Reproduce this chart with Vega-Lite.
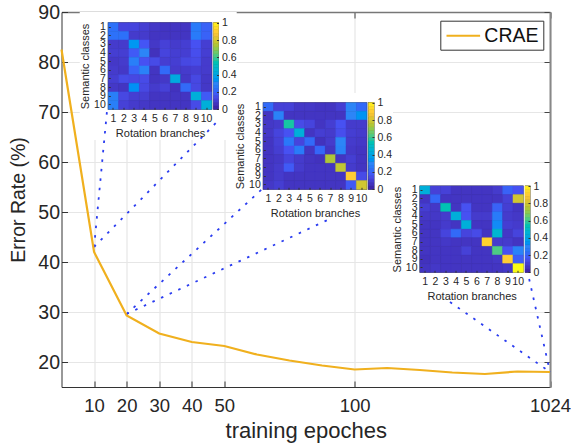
{
"$schema":"https://vega.github.io/schema/vega-lite/v6.json",
"width":488.5,"height":375,"padding":{"left":61.5,"top":12,"right":21,"bottom":57},"autosize":"none","background":"white",
"config":{"font":"Liberation Sans","view":{"stroke":null},"axis":{"labelFont":"Liberation Sans","titleFont":"Liberation Sans","labelColor":"#262626","titleColor":"#262626","titleFontWeight":"normal"}},
"datasets":{
"series":[{"idx":0,"epoch":"5","err":82.5,"method":"CRAE"},{"idx":1,"epoch":"10","err":42,"method":"CRAE"},{"idx":2,"epoch":"20","err":29.3,"method":"CRAE"},{"idx":3,"epoch":"30","err":25.7,"method":"CRAE"},{"idx":4,"epoch":"40","err":24,"method":"CRAE"},{"idx":5,"epoch":"50","err":23.2,"method":"CRAE"},{"idx":6,"epoch":"60","err":21.5,"method":"CRAE"},{"idx":7,"epoch":"70","err":20.3,"method":"CRAE"},{"idx":8,"epoch":"80","err":19.3,"method":"CRAE"},{"idx":9,"epoch":"100","err":18.5,"method":"CRAE"},{"idx":10,"epoch":"200","err":18.8,"method":"CRAE"},{"idx":11,"epoch":"300","err":18.4,"method":"CRAE"},{"idx":12,"epoch":"400","err":17.9,"method":"CRAE"},{"idx":13,"epoch":"500","err":17.6,"method":"CRAE"},{"idx":14,"epoch":"800","err":18.1,"method":"CRAE"},{"idx":15,"epoch":"1024","err":18,"method":"CRAE"}],
"panels":[{"idx":0.56,"idx2":5.38,"err":90,"err2":64.4,"kind":"white"},{"idx":5.33,"idx2":10.18,"err":73.8,"err2":48.8,"kind":"white"},{"idx":10.18,"idx2":14.97,"err":56.8,"err2":31.4,"kind":"white"},{"idx":1.42,"idx2":4.63,"err":87.96,"err2":70.44,"kind":"dark"},{"idx":4.66,"idx2":4.83,"err":87.96,"err2":70.44,"kind":"dark"},{"idx":6.18,"idx2":9.39,"err":71.96,"err2":54.44,"kind":"dark"},{"idx":9.41,"idx2":9.61,"err":71.96,"err2":54.44,"kind":"dark"},{"idx":10.99,"idx2":14.19,"err":55.3,"err2":37.84,"kind":"dark"},{"idx":14.23,"idx2":14.4,"err":55.3,"err2":37.84,"kind":"dark"}],
"links":[{"link":"a","idx":1,"err":43},{"link":"a","idx":1.4,"err":70.4},{"link":"b","idx":1,"err":43},{"link":"b","idx":4.77,"err":68},{"link":"c","idx":2,"err":29.6},{"link":"c","idx":6.16,"err":54.6},{"link":"d","idx":2,"err":29.6},{"link":"d","idx":8.3,"err":48.8},{"link":"e","idx":15,"err":18},{"link":"e","idx":11.93,"err":32},{"link":"e2","idx":15,"err":18},{"link":"e2","idx":14.36,"err":36.6}],
"bar":[{"v":0,"v2":0.04,"b":"c"},{"v":0.04,"v2":0.08,"b":"c"},{"v":0.08,"v2":0.12,"b":"c"},{"v":0.12,"v2":0.16,"b":"c"},{"v":0.16,"v2":0.2,"b":"c"},{"v":0.2,"v2":0.24,"b":"c"},{"v":0.24,"v2":0.28,"b":"c"},{"v":0.28,"v2":0.32,"b":"c"},{"v":0.32,"v2":0.36,"b":"c"},{"v":0.36,"v2":0.4,"b":"c"},{"v":0.4,"v2":0.44,"b":"c"},{"v":0.44,"v2":0.48,"b":"c"},{"v":0.48,"v2":0.52,"b":"c"},{"v":0.52,"v2":0.56,"b":"c"},{"v":0.56,"v2":0.6,"b":"c"},{"v":0.6,"v2":0.64,"b":"c"},{"v":0.64,"v2":0.68,"b":"c"},{"v":0.68,"v2":0.72,"b":"c"},{"v":0.72,"v2":0.76,"b":"c"},{"v":0.76,"v2":0.8,"b":"c"},{"v":0.8,"v2":0.84,"b":"c"},{"v":0.84,"v2":0.88,"b":"c"},{"v":0.88,"v2":0.92,"b":"c"},{"v":0.92,"v2":0.96,"b":"c"},{"v":0.96,"v2":1,"b":"c"}],
"m1":[
{"r":1,"c":1,"v":0.22},{"r":1,"c":2,"v":0.1},{"r":1,"c":3,"v":0.1},{"r":1,"c":4,"v":0.08},{"r":1,"c":5,"v":0.06},{"r":1,"c":6,"v":0.05},{"r":1,"c":7,"v":0.05},{"r":1,"c":8,"v":0.05},{"r":1,"c":9,"v":0.25},{"r":1,"c":10,"v":0.18},
{"r":2,"c":1,"v":0.22},{"r":2,"c":2,"v":0.22},{"r":2,"c":3,"v":0.07},{"r":2,"c":4,"v":0.07},{"r":2,"c":5,"v":0.05},{"r":2,"c":6,"v":0.05},{"r":2,"c":7,"v":0.05},{"r":2,"c":8,"v":0.05},{"r":2,"c":9,"v":0.25},{"r":2,"c":10,"v":0.18},
{"r":3,"c":1,"v":0.07},{"r":3,"c":2,"v":0.07},{"r":3,"c":3,"v":0.33},{"r":3,"c":4,"v":0.15},{"r":3,"c":5,"v":0.06},{"r":3,"c":6,"v":0.09},{"r":3,"c":7,"v":0.07},{"r":3,"c":8,"v":0.08},{"r":3,"c":9,"v":0.14},{"r":3,"c":10,"v":0.08},
{"r":4,"c":1,"v":0.08},{"r":4,"c":2,"v":0.08},{"r":4,"c":3,"v":0.16},{"r":4,"c":4,"v":0.28},{"r":4,"c":5,"v":0.04},{"r":4,"c":6,"v":0.1},{"r":4,"c":7,"v":0.08},{"r":4,"c":8,"v":0.08},{"r":4,"c":9,"v":0.13},{"r":4,"c":10,"v":0.08},
{"r":5,"c":1,"v":0.06},{"r":5,"c":2,"v":0.07},{"r":5,"c":3,"v":0.26},{"r":5,"c":4,"v":0.14},{"r":5,"c":5,"v":0.12},{"r":5,"c":6,"v":0.08},{"r":5,"c":7,"v":0.08},{"r":5,"c":8,"v":0.11},{"r":5,"c":9,"v":0.12},{"r":5,"c":10,"v":0.07},
{"r":6,"c":1,"v":0.07},{"r":6,"c":2,"v":0.06},{"r":6,"c":3,"v":0.18},{"r":6,"c":4,"v":0.27},{"r":6,"c":5,"v":0.05},{"r":6,"c":6,"v":0.2},{"r":6,"c":7,"v":0.07},{"r":6,"c":8,"v":0.07},{"r":6,"c":9,"v":0.08},{"r":6,"c":10,"v":0.07},
{"r":7,"c":1,"v":0.08},{"r":7,"c":2,"v":0.12},{"r":7,"c":3,"v":0.11},{"r":7,"c":4,"v":0.12},{"r":7,"c":5,"v":0.05},{"r":7,"c":6,"v":0.06},{"r":7,"c":7,"v":0.4},{"r":7,"c":8,"v":0.06},{"r":7,"c":9,"v":0.11},{"r":7,"c":10,"v":0.06},
{"r":8,"c":1,"v":0.06},{"r":8,"c":2,"v":0.05},{"r":8,"c":3,"v":0.31},{"r":8,"c":4,"v":0.11},{"r":8,"c":5,"v":0.07},{"r":8,"c":6,"v":0.09},{"r":8,"c":7,"v":0.04},{"r":8,"c":8,"v":0.2},{"r":8,"c":9,"v":0.11},{"r":8,"c":10,"v":0.06},
{"r":9,"c":1,"v":0.26},{"r":9,"c":2,"v":0.11},{"r":9,"c":3,"v":0.08},{"r":9,"c":4,"v":0.08},{"r":9,"c":5,"v":0.05},{"r":9,"c":6,"v":0.05},{"r":9,"c":7,"v":0.05},{"r":9,"c":8,"v":0.05},{"r":9,"c":9,"v":0.42},{"r":9,"c":10,"v":0.16},
{"r":10,"c":1,"v":0.26},{"r":10,"c":2,"v":0.09},{"r":10,"c":3,"v":0.07},{"r":10,"c":4,"v":0.06},{"r":10,"c":5,"v":0.05},{"r":10,"c":6,"v":0.05},{"r":10,"c":7,"v":0.05},{"r":10,"c":8,"v":0.05},{"r":10,"c":9,"v":0.12},{"r":10,"c":10,"v":0.42}],
"m2":[
{"r":1,"c":1,"v":0.2},{"r":1,"c":2,"v":0.09},{"r":1,"c":3,"v":0.09},{"r":1,"c":4,"v":0.06},{"r":1,"c":5,"v":0.06},{"r":1,"c":6,"v":0.05},{"r":1,"c":7,"v":0.05},{"r":1,"c":8,"v":0.08},{"r":1,"c":9,"v":0.28},{"r":1,"c":10,"v":0.2},
{"r":2,"c":1,"v":0.05},{"r":2,"c":2,"v":0.27},{"r":2,"c":3,"v":0.05},{"r":2,"c":4,"v":0.05},{"r":2,"c":5,"v":0.05},{"r":2,"c":6,"v":0.05},{"r":2,"c":7,"v":0.05},{"r":2,"c":8,"v":0.05},{"r":2,"c":9,"v":0.28},{"r":2,"c":10,"v":0.32},
{"r":3,"c":1,"v":0.06},{"r":3,"c":2,"v":0.07},{"r":3,"c":3,"v":0.55},{"r":3,"c":4,"v":0.12},{"r":3,"c":5,"v":0.1},{"r":3,"c":6,"v":0.05},{"r":3,"c":7,"v":0.08},{"r":3,"c":8,"v":0.14},{"r":3,"c":9,"v":0.07},{"r":3,"c":10,"v":0.07},
{"r":4,"c":1,"v":0.06},{"r":4,"c":2,"v":0.1},{"r":4,"c":3,"v":0.14},{"r":4,"c":4,"v":0.42},{"r":4,"c":5,"v":0.05},{"r":4,"c":6,"v":0.08},{"r":4,"c":7,"v":0.07},{"r":4,"c":8,"v":0.13},{"r":4,"c":9,"v":0.08},{"r":4,"c":10,"v":0.07},
{"r":5,"c":1,"v":0.05},{"r":5,"c":2,"v":0.09},{"r":5,"c":3,"v":0.24},{"r":5,"c":4,"v":0.1},{"r":5,"c":5,"v":0.2},{"r":5,"c":6,"v":0.04},{"r":5,"c":7,"v":0.07},{"r":5,"c":8,"v":0.28},{"r":5,"c":9,"v":0.07},{"r":5,"c":10,"v":0.06},
{"r":6,"c":1,"v":0.05},{"r":6,"c":2,"v":0.08},{"r":6,"c":3,"v":0.14},{"r":6,"c":4,"v":0.25},{"r":6,"c":5,"v":0.05},{"r":6,"c":6,"v":0.19},{"r":6,"c":7,"v":0.05},{"r":6,"c":8,"v":0.27},{"r":6,"c":9,"v":0.06},{"r":6,"c":10,"v":0.05},
{"r":7,"c":1,"v":0.05},{"r":7,"c":2,"v":0.06},{"r":7,"c":3,"v":0.1},{"r":7,"c":4,"v":0.07},{"r":7,"c":5,"v":0.05},{"r":7,"c":6,"v":0.04},{"r":7,"c":7,"v":0.72},{"r":7,"c":8,"v":0.05},{"r":7,"c":9,"v":0.08},{"r":7,"c":10,"v":0.05},
{"r":8,"c":1,"v":0.05},{"r":8,"c":2,"v":0.07},{"r":8,"c":3,"v":0.16},{"r":8,"c":4,"v":0.07},{"r":8,"c":5,"v":0.05},{"r":8,"c":6,"v":0.05},{"r":8,"c":7,"v":0.05},{"r":8,"c":8,"v":0.75},{"r":8,"c":9,"v":0.07},{"r":8,"c":10,"v":0.05},
{"r":9,"c":1,"v":0.05},{"r":9,"c":2,"v":0.07},{"r":9,"c":3,"v":0.05},{"r":9,"c":4,"v":0.05},{"r":9,"c":5,"v":0.05},{"r":9,"c":6,"v":0.05},{"r":9,"c":7,"v":0.05},{"r":9,"c":8,"v":0.05},{"r":9,"c":9,"v":0.88},{"r":9,"c":10,"v":0.12},
{"r":10,"c":1,"v":0.06},{"r":10,"c":2,"v":0.08},{"r":10,"c":3,"v":0.05},{"r":10,"c":4,"v":0.05},{"r":10,"c":5,"v":0.05},{"r":10,"c":6,"v":0.05},{"r":10,"c":7,"v":0.05},{"r":10,"c":8,"v":0.05},{"r":10,"c":9,"v":0.16},{"r":10,"c":10,"v":0.78}],
"m3":[
{"r":1,"c":1,"v":0.42},{"r":1,"c":2,"v":0.09},{"r":1,"c":3,"v":0.09},{"r":1,"c":4,"v":0.05},{"r":1,"c":5,"v":0.05},{"r":1,"c":6,"v":0.05},{"r":1,"c":7,"v":0.05},{"r":1,"c":8,"v":0.07},{"r":1,"c":9,"v":0.18},{"r":1,"c":10,"v":0.14},
{"r":2,"c":1,"v":0.05},{"r":2,"c":2,"v":0.19},{"r":2,"c":3,"v":0.05},{"r":2,"c":4,"v":0.05},{"r":2,"c":5,"v":0.05},{"r":2,"c":6,"v":0.05},{"r":2,"c":7,"v":0.05},{"r":2,"c":8,"v":0.05},{"r":2,"c":9,"v":0.09},{"r":2,"c":10,"v":0.78},
{"r":3,"c":1,"v":0.08},{"r":3,"c":2,"v":0.06},{"r":3,"c":3,"v":0.52},{"r":3,"c":4,"v":0.05},{"r":3,"c":5,"v":0.14},{"r":3,"c":6,"v":0.05},{"r":3,"c":7,"v":0.05},{"r":3,"c":8,"v":0.18},{"r":3,"c":9,"v":0.08},{"r":3,"c":10,"v":0.05},
{"r":4,"c":1,"v":0.06},{"r":4,"c":2,"v":0.06},{"r":4,"c":3,"v":0.07},{"r":4,"c":4,"v":0.42},{"r":4,"c":5,"v":0.14},{"r":4,"c":6,"v":0.07},{"r":4,"c":7,"v":0.07},{"r":4,"c":8,"v":0.25},{"r":4,"c":9,"v":0.07},{"r":4,"c":10,"v":0.06},
{"r":5,"c":1,"v":0.05},{"r":5,"c":2,"v":0.05},{"r":5,"c":3,"v":0.07},{"r":5,"c":4,"v":0.05},{"r":5,"c":5,"v":0.42},{"r":5,"c":6,"v":0.05},{"r":5,"c":7,"v":0.05},{"r":5,"c":8,"v":0.3},{"r":5,"c":9,"v":0.08},{"r":5,"c":10,"v":0.07},
{"r":6,"c":1,"v":0.05},{"r":6,"c":2,"v":0.05},{"r":6,"c":3,"v":0.1},{"r":6,"c":4,"v":0.2},{"r":6,"c":5,"v":0.1},{"r":6,"c":6,"v":0.12},{"r":6,"c":7,"v":0.05},{"r":6,"c":8,"v":0.45},{"r":6,"c":9,"v":0.06},{"r":6,"c":10,"v":0.1},
{"r":7,"c":1,"v":0.05},{"r":7,"c":2,"v":0.05},{"r":7,"c":3,"v":0.06},{"r":7,"c":4,"v":0.05},{"r":7,"c":5,"v":0.05},{"r":7,"c":6,"v":0.05},{"r":7,"c":7,"v":0.9},{"r":7,"c":8,"v":0.07},{"r":7,"c":9,"v":0.07},{"r":7,"c":10,"v":0.05},
{"r":8,"c":1,"v":0.05},{"r":8,"c":2,"v":0.05},{"r":8,"c":3,"v":0.05},{"r":8,"c":4,"v":0.05},{"r":8,"c":5,"v":0.09},{"r":8,"c":6,"v":0.05},{"r":8,"c":7,"v":0.05},{"r":8,"c":8,"v":0.6},{"r":8,"c":9,"v":0.14},{"r":8,"c":10,"v":0.27},
{"r":9,"c":1,"v":0.04},{"r":9,"c":2,"v":0.05},{"r":9,"c":3,"v":0.05},{"r":9,"c":4,"v":0.05},{"r":9,"c":5,"v":0.05},{"r":9,"c":6,"v":0.05},{"r":9,"c":7,"v":0.05},{"r":9,"c":8,"v":0.06},{"r":9,"c":9,"v":0.88},{"r":9,"c":10,"v":0.17},
{"r":10,"c":1,"v":0.05},{"r":10,"c":2,"v":0.06},{"r":10,"c":3,"v":0.05},{"r":10,"c":4,"v":0.05},{"r":10,"c":5,"v":0.05},{"r":10,"c":6,"v":0.05},{"r":10,"c":7,"v":0.05},{"r":10,"c":8,"v":0.05},{"r":10,"c":9,"v":0.06},{"r":10,"c":10,"v":1}]
},
"resolve":{"scale":{"x":"independent","y":"independent","stroke":"independent","fill":"independent"},"axis":{"x":"independent","y":"independent"}},
"layer":[
{"resolve":{"axis":{"x":"independent","y":"independent"}},
 "layer":[
 {"data":{"name":"panels"},"mark":{"type":"rect"},
  "encoding":{
   "x":{"field":"idx","type":"quantitative","scale":{"domain":[0,15],"nice":false,"zero":false},
     "axis":{"orient":"bottom","values":[1,2,3,4,5,9,15],"labelExpr":"{'1':'10','2':'20','3':'30','4':'40','5':'50','9':'100','15':'1024'}[datum.value]","title":"training epoches","grid":true,"gridColor":"#e6e6e6","gridWidth":1.2,"tickSize":-6,"tickColor":"#333","domainColor":"#333","domainWidth":1,"labelFontSize":18.5,"titleFontSize":22,"labelPadding":15,"titlePadding":6,"labelFlush":false}},
   "x2":{"field":"idx2"},
   "y":{"field":"err","type":"quantitative","scale":{"domain":[15,90],"nice":false,"zero":false},
     "axis":{"orient":"left","values":[20,30,40,50,60,70,80,90],"title":"Error Rate (%)","grid":true,"gridColor":"#e6e6e6","gridWidth":1.2,"tickSize":-6,"tickColor":"#333","domainColor":"#333","domainWidth":1,"labelFontSize":19.5,"titleFontSize":19.5,"labelPadding":8,"titlePadding":9}},
   "y2":{"field":"err2"},
   "fill":{"field":"kind","type":"nominal","scale":{"domain":["white","dark"],"range":["#ffffff","#3a3a3a"]},"legend":null}
  }},
 {"data":{"name":"links"},"mark":{"type":"line","stroke":"#2a3cf0","strokeWidth":1.8,"strokeDash":[2.5,7]},
  "encoding":{"x":{"field":"idx","type":"quantitative","axis":null},"y":{"field":"err","type":"quantitative","axis":null},"detail":{"field":"link"}}},
 {"data":{"name":"series"},"mark":{"type":"line","strokeWidth":2.2},
  "encoding":{
   "x":{"field":"idx","type":"quantitative","axis":{"orient":"top","values":[1,2,3,4,5,9,15],"labels":false,"title":null,"tickSize":-6,"tickColor":"#444","domainColor":"#777","domainWidth":1.4,"grid":false}},
   "y":{"field":"err","type":"quantitative","axis":{"orient":"right","values":[20,30,40,50,60,70,80,90],"labels":false,"title":null,"tickSize":-6,"tickColor":"#444","domainColor":"#888","domainWidth":2,"grid":false}},
   "stroke":{"field":"method","type":"nominal","scale":{"range":["#f0b01e"]},"legend":{"orient":"none","legendX":378.8,"legendY":8.7,"title":null,"fillColor":"#ffffff","strokeColor":"#333","padding":4,"symbolType":"M-1.68,0H1.68","symbolSize":400,"symbolOffset":8,"labelOffset":10,"symbolStrokeWidth":2,"labelFontSize":19.5,"labelColor":"#111","labelFont":"Liberation Sans"}}
  }}
 ]},
{"data":{"name":"m1"},"mark":{"type":"rect","strokeWidth":0.5},
 "encoding":{
  "x":{"field":"c","type":"ordinal","scale":{"domain":[1,2,3,4,5,6,7,8,9,10],"range":[46.8,150.2],"paddingInner":0,"paddingOuter":0},"axis":{"zindex":1,"orient":"bottom","offset":-277.7,"title":"Rotation branches","titleFontSize":11,"labelFontSize":10.5,"labelAngle":0,"domain":false,"tickSize":-2,"tickColor":"#333","labelPadding":6,"titlePadding":4,"labelOverlap":false,"grid":false}},
  "y":{"field":"r","type":"ordinal","scale":{"domain":[1,2,3,4,5,6,7,8,9,10],"range":[10.7,97.3],"paddingInner":0,"paddingOuter":0},"axis":{"zindex":1,"orient":"left","offset":-46.8,"title":"Semantic classes","titleFontSize":11,"labelFontSize":10.5,"domain":false,"tickSize":-2,"tickColor":"#333","labelPadding":5,"titlePadding":3,"labelOverlap":false,"grid":false}},
  "fill":{"field":"v","type":"quantitative","scale":{"domain":[0,0.143,0.286,0.429,0.571,0.714,0.857,1],"range":["#3e26a8","#4752f4","#2d87f7","#12b1d6","#37c897","#abc739","#fec338","#f9fb15"]},"legend":null},
  "stroke":{"field":"v","type":"quantitative","scale":{"domain":[0,0.143,0.286,0.429,0.571,0.714,0.857,1],"range":["#3e26a8","#4752f4","#2d87f7","#12b1d6","#37c897","#abc739","#fec338","#f9fb15"]},"legend":null}
 }},
{"data":{"name":"bar"},"mark":{"type":"rect","strokeWidth":0.5},
 "encoding":{
  "x":{"field":"b","type":"nominal","scale":{"range":[152,157],"paddingInner":0,"paddingOuter":0},"axis":null},
  "y":{"field":"v","type":"quantitative","scale":{"domain":[0,1],"range":[97.3,10.7],"nice":false},"axis":{"zindex":1,"orient":"right","offset":-331.5,"values":[0,0.2,0.4,0.6,0.8,1],"format":"~g","title":null,"labelFontSize":10.5,"domain":false,"tickSize":-2,"tickColor":"#333","labelPadding":5,"grid":false}},
  "y2":{"field":"v2"},
  "fill":{"field":"v","type":"quantitative","scale":{"domain":[0,0.143,0.286,0.429,0.571,0.714,0.857,1],"range":["#3e26a8","#4752f4","#2d87f7","#12b1d6","#37c897","#abc739","#fec338","#f9fb15"]},"legend":null},
  "stroke":{"field":"v","type":"quantitative","scale":{"domain":[0,0.143,0.286,0.429,0.571,0.714,0.857,1],"range":["#3e26a8","#4752f4","#2d87f7","#12b1d6","#37c897","#abc739","#fec338","#f9fb15"]},"legend":null}
 }},
{"data":{"name":"m2"},"mark":{"type":"rect","strokeWidth":0.5},
 "encoding":{
  "x":{"field":"c","type":"ordinal","scale":{"domain":[1,2,3,4,5,6,7,8,9,10],"range":[201.8,305.2],"paddingInner":0,"paddingOuter":0},"axis":{"zindex":1,"orient":"bottom","offset":-197.7,"title":"Rotation branches","titleFontSize":11,"labelFontSize":10.5,"labelAngle":0,"domain":false,"tickSize":-2,"tickColor":"#333","labelPadding":6,"titlePadding":4,"labelOverlap":false,"grid":false}},
  "y":{"field":"r","type":"ordinal","scale":{"domain":[1,2,3,4,5,6,7,8,9,10],"range":[90.7,177.3],"paddingInner":0,"paddingOuter":0},"axis":{"zindex":1,"orient":"left","offset":-201.8,"title":"Semantic classes","titleFontSize":11,"labelFontSize":10.5,"domain":false,"tickSize":-2,"tickColor":"#333","labelPadding":5,"titlePadding":3,"labelOverlap":false,"grid":false}},
  "fill":{"field":"v","type":"quantitative","scale":{"domain":[0,0.143,0.286,0.429,0.571,0.714,0.857,1],"range":["#3e26a8","#4752f4","#2d87f7","#12b1d6","#37c897","#abc739","#fec338","#f9fb15"]},"legend":null},
  "stroke":{"field":"v","type":"quantitative","scale":{"domain":[0,0.143,0.286,0.429,0.571,0.714,0.857,1],"range":["#3e26a8","#4752f4","#2d87f7","#12b1d6","#37c897","#abc739","#fec338","#f9fb15"]},"legend":null}
 }},
{"data":{"name":"bar"},"mark":{"type":"rect","strokeWidth":0.5},
 "encoding":{
  "x":{"field":"b","type":"nominal","scale":{"range":[307,312.5],"paddingInner":0,"paddingOuter":0},"axis":null},
  "y":{"field":"v","type":"quantitative","scale":{"domain":[0,1],"range":[177.3,90.7],"nice":false},"axis":{"zindex":1,"orient":"right","offset":-176,"values":[0,0.2,0.4,0.6,0.8,1],"format":"~g","title":null,"labelFontSize":10.5,"domain":false,"tickSize":-2,"tickColor":"#333","labelPadding":5,"grid":false}},
  "y2":{"field":"v2"},
  "fill":{"field":"v","type":"quantitative","scale":{"domain":[0,0.143,0.286,0.429,0.571,0.714,0.857,1],"range":["#3e26a8","#4752f4","#2d87f7","#12b1d6","#37c897","#abc739","#fec338","#f9fb15"]},"legend":null},
  "stroke":{"field":"v","type":"quantitative","scale":{"domain":[0,0.143,0.286,0.429,0.571,0.714,0.857,1],"range":["#3e26a8","#4752f4","#2d87f7","#12b1d6","#37c897","#abc739","#fec338","#f9fb15"]},"legend":null}
 }},
{"data":{"name":"m3"},"mark":{"type":"rect","strokeWidth":0.5},
 "encoding":{
  "x":{"field":"c","type":"ordinal","scale":{"domain":[1,2,3,4,5,6,7,8,9,10],"range":[358.5,461.8],"paddingInner":0,"paddingOuter":0},"axis":{"zindex":1,"orient":"bottom","offset":-114.7,"title":"Rotation branches","titleFontSize":11,"labelFontSize":10.5,"labelAngle":0,"domain":false,"tickSize":-2,"tickColor":"#333","labelPadding":6,"titlePadding":4,"labelOverlap":false,"grid":false}},
  "y":{"field":"r","type":"ordinal","scale":{"domain":[1,2,3,4,5,6,7,8,9,10],"range":[174,260.3],"paddingInner":0,"paddingOuter":0},"axis":{"zindex":1,"orient":"left","offset":-358.5,"title":"Semantic classes","titleFontSize":11,"labelFontSize":10.5,"domain":false,"tickSize":-2,"tickColor":"#333","labelPadding":5,"titlePadding":3,"labelOverlap":false,"grid":false}},
  "fill":{"field":"v","type":"quantitative","scale":{"domain":[0,0.143,0.286,0.429,0.571,0.714,0.857,1],"range":["#3e26a8","#4752f4","#2d87f7","#12b1d6","#37c897","#abc739","#fec338","#f9fb15"]},"legend":null},
  "stroke":{"field":"v","type":"quantitative","scale":{"domain":[0,0.143,0.286,0.429,0.571,0.714,0.857,1],"range":["#3e26a8","#4752f4","#2d87f7","#12b1d6","#37c897","#abc739","#fec338","#f9fb15"]},"legend":null}
 }},
{"data":{"name":"bar"},"mark":{"type":"rect","strokeWidth":0.5},
 "encoding":{
  "x":{"field":"b","type":"nominal","scale":{"range":[463.5,468.5],"paddingInner":0,"paddingOuter":0},"axis":null},
  "y":{"field":"v","type":"quantitative","scale":{"domain":[0,1],"range":[260.3,174],"nice":false},"axis":{"zindex":1,"orient":"right","offset":-20,"values":[0,0.2,0.4,0.6,0.8,1],"format":"~g","title":null,"labelFontSize":10.5,"domain":false,"tickSize":-2,"tickColor":"#333","labelPadding":5,"grid":false}},
  "y2":{"field":"v2"},
  "fill":{"field":"v","type":"quantitative","scale":{"domain":[0,0.143,0.286,0.429,0.571,0.714,0.857,1],"range":["#3e26a8","#4752f4","#2d87f7","#12b1d6","#37c897","#abc739","#fec338","#f9fb15"]},"legend":null},
  "stroke":{"field":"v","type":"quantitative","scale":{"domain":[0,0.143,0.286,0.429,0.571,0.714,0.857,1],"range":["#3e26a8","#4752f4","#2d87f7","#12b1d6","#37c897","#abc739","#fec338","#f9fb15"]},"legend":null}
 }}
]
}
